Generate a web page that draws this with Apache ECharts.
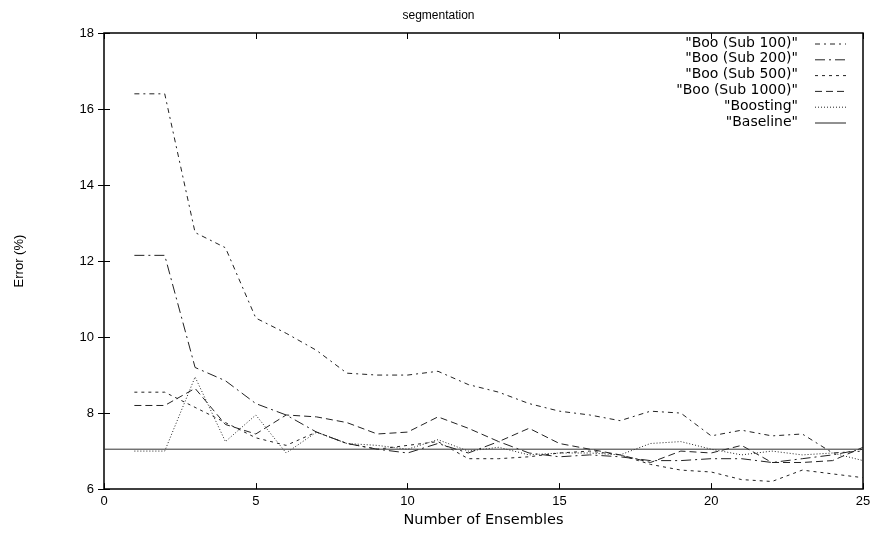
<!DOCTYPE html>
<html><head><meta charset="utf-8">
<script src="https://cdn.jsdelivr.net/npm/echarts@6/dist/echarts.min.js"></script>
<style>html,body{margin:0;padding:0;background:#fff}#c{width:877px;height:533px}</style>
</head><body><div id="c"></div>
<script>
var ensembles = [1,2,3,4,5,6,7,8,9,10,11,12,13,14,15,16,17,18,19,20,21,22,23,24,25];
var sub100  = [16.4,16.4,12.75,12.35,10.5,10.1,9.65,9.05,9.0,9.0,9.1,8.75,8.55,8.25,8.05,7.95,7.8,8.05,8.0,7.4,7.55,7.4,7.45,6.95,7.0];
var sub200  = [12.15,12.15,9.2,8.85,8.25,7.95,7.5,7.2,7.05,6.95,7.2,6.95,7.25,6.95,6.85,6.9,6.85,6.75,6.75,6.8,6.8,6.7,6.8,6.9,7.05];
var sub500  = [8.55,8.55,8.15,7.75,7.35,7.15,7.5,7.2,7.05,7.15,7.25,6.8,6.8,6.85,6.95,7.0,6.9,6.65,6.5,6.45,6.25,6.2,6.5,6.4,6.3];
var sub1000 = [8.2,8.2,8.65,7.7,7.45,7.95,7.9,7.75,7.45,7.5,7.9,7.6,7.25,7.6,7.2,7.05,6.9,6.7,7.0,6.95,7.15,6.7,6.7,6.75,7.1];
var boosting= [7.0,7.0,8.95,7.25,7.95,6.95,7.5,7.2,7.15,7.05,7.3,7.0,7.1,6.9,6.95,6.95,6.9,7.2,7.25,7.05,6.9,7.0,6.9,6.95,6.75];
var baselineX = [0,25];
var baselineY = [7.05,7.05];
var seriesNames = ['"Boo (Sub 100)"','"Boo (Sub 200)"','"Boo (Sub 500)"','"Boo (Sub 1000)"','"Boosting"','"Baseline"'];
var yTicks = [6,8,10,12,14,16,18];
var xTicks = [0,5,10,15,20,25];

var dashes = [[5,4,2,4],[10,4,2,4],[3,4],[7,4],[1,2],null];
var col = '#222';
function pairs(xs, ys){ return xs.map(function(x,i){return [x, ys[i]];}); }
var allY = [sub100, sub200, sub500, sub1000, boosting];

var series = allY.map(function(ys,i){
  return {name: seriesNames[i], type:'line', data: pairs(ensembles, ys), symbol:'none',
    lineStyle:{color:col, width:1, type: dashes[i]}, silent:true, animation:false};
});
series.push({name: seriesNames[5], type:'line', data: pairs(baselineX, baselineY), symbol:'none',
  lineStyle:{color:'#333', width:1, type:'solid'}, silent:true, animation:false});

// legend drawn as graphic
var graphics = [];
var legTop = 44, legStep = 15.8;
seriesNames.forEach(function(n,i){
  var y = legTop + i*legStep;
  graphics.push({type:'text', right: 877-798, top: y-8, style:{text:n, font:'14px "DejaVu Sans", sans-serif', fill:'#000', textAlign:'right'}});
  graphics.push({type:'line', shape:{x1:815,y1:y,x2:846,y2:y}, style:{stroke:col, lineWidth:1, lineDash: dashes[i] || null}});
});

var chart = echarts.init(document.getElementById('c'), null, {renderer:'canvas'});
var axisFont = {fontFamily:'"Liberation Sans", Arial, sans-serif', fontSize:13, color:'#000'};
chart.setOption({
  animation:false,
  title:{text:'segmentation', left:'center', top:5, textStyle:{fontFamily:'"Liberation Sans", Arial, sans-serif', fontSize:12, fontWeight:'normal', color:'#000'}},
  grid:{left:104, right:14, top:33, bottom:39, show:true, borderColor:'#000', borderWidth:1.5},
  xAxis:[{type:'value', min:0, max:25, interval:5, position:'bottom',
    axisLine:{show:false}, axisTick:{inside:true, length:6, lineStyle:{color:'#000'}},
    splitLine:{show:false}, axisLabel:Object.assign({margin:6}, axisFont),
    name:'Number of Ensembles', nameLocation:'middle', nameGap:20,
    nameTextStyle:{fontFamily:'"DejaVu Sans", sans-serif', fontSize:14.5, color:'#000'}},
    {type:'value', min:0, max:25, interval:5, position:'top',
    axisLine:{show:false}, axisTick:{inside:true, length:6, lineStyle:{color:'#000'}},
    splitLine:{show:false}, axisLabel:{show:false}}],
  yAxis:[{type:'value', min:6, max:18, interval:2, position:'left',
    axisLine:{show:false}, axisTick:{inside:true, length:6, lineStyle:{color:'#000'}},
    splitLine:{show:false}, axisLabel:Object.assign({margin:10}, axisFont),
    name:'Error (%)', nameLocation:'middle', nameGap:78, nameRotate:90, nameTextStyle:axisFont},
    {type:'value', min:6, max:18, interval:2, position:'right',
    axisLine:{show:false}, axisTick:{inside:true, length:6, lineStyle:{color:'#000'}},
    splitLine:{show:false}, axisLabel:{show:false}}],
  series: series,
  graphic: graphics
});
</script></body></html>
